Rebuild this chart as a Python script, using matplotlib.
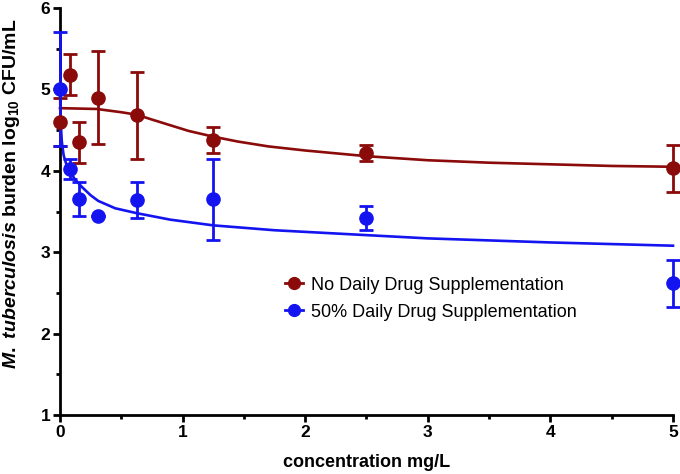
import matplotlib
matplotlib.use("Agg")
import matplotlib.pyplot as plt
from matplotlib.ticker import MultipleLocator

plt.rcParams["font.family"] = ["Liberation Sans", "DejaVu Sans"]
plt.rcParams["mathtext.fontset"] = "custom"
plt.rcParams["mathtext.it"] = "Liberation Sans:italic:bold"
plt.rcParams["mathtext.rm"] = "Liberation Sans:bold"

# measured data (concentration mg/L)
conc = [0, 0.078, 0.156, 0.3125, 0.625, 1.25, 2.5, 5]
no_supp_mean = [4.60, 5.18, 4.35, 4.90, 4.68, 4.38, 4.22, 4.03]
no_supp_err = [0.30, 0.25, 0.25, 0.57, 0.53, 0.16, 0.10, 0.29]
half_supp_mean = [5.00, 4.02, 3.65, 3.44, 3.64, 3.65, 3.42, 2.62]
half_supp_err = [0.70, 0.12, 0.21, 0.0, 0.22, 0.50, 0.15, 0.29]

# fitted curves
fit_x_red = [0, 0.3, 0.5, 0.625, 0.75, 0.9, 1.05, 1.25, 1.45, 1.7, 2.0, 2.5, 3.0, 3.5, 4.0, 4.5, 5.0]
fit_y_red = [4.77, 4.76, 4.72, 4.69, 4.63, 4.56, 4.49, 4.42, 4.36, 4.30, 4.25, 4.18, 4.13, 4.10, 4.08, 4.06, 4.05]
fit_x_blue = [0, 0.005, 0.015, 0.03, 0.05, 0.078, 0.12, 0.18, 0.25, 0.3125, 0.45, 0.625,
              0.9, 1.25, 1.75, 2.5, 3.0, 4.0, 5.0]
fit_y_blue = [5.00, 4.62, 4.36, 4.19, 4.09, 4.00, 3.90, 3.80, 3.70, 3.63, 3.54, 3.48,
              3.40, 3.33, 3.27, 3.21, 3.17, 3.12, 3.08]

red = "#8b0a0a"
blue = "#1414f0"

fig = plt.figure(figsize=(6.8, 4.74), dpi=100)
ax = fig.add_axes([0.0882, 0.1245, 0.9015, 0.8585])

ax.plot(fit_x_red, fit_y_red, color=red, lw=1.9, clip_on=False, zorder=2)
ax.plot(fit_x_blue, fit_y_blue, color=blue, lw=1.9, clip_on=False, zorder=2)

eb1 = ax.errorbar(conc, no_supp_mean, yerr=no_supp_err, fmt="o", color=red, ms=9.5,
                  capsize=4.7, capthick=2, elinewidth=2, clip_on=False, zorder=3)
eb2 = ax.errorbar(conc, half_supp_mean, yerr=half_supp_err, fmt="o", color=blue, ms=9.5,
                  capsize=4.7, capthick=2, elinewidth=2, clip_on=False, zorder=3)
for eb in (eb1, eb2):
    for part in eb.lines[1] + eb.lines[2]:
        part.set_clip_on(False)

# legend handles: marker on a short line
h1, = ax.plot([], [], "-o", color=red, ms=8.5, lw=2)
h2, = ax.plot([], [], "-o", color=blue, ms=8.5, lw=2)
ax.legend([h1, h2], ["No Daily Drug Supplementation", "50% Daily Drug Supplementation"],
          loc="upper left", bbox_to_anchor=(0.367, 0.34), frameon=False, fontsize=13,
          handlelength=1.0, handletextpad=0.45, labelspacing=0.56,
          borderpad=0, borderaxespad=0)

ax.set_xlim(0, 5)
ax.set_ylim(1, 6)
ax.xaxis.set_major_locator(MultipleLocator(1))
ax.xaxis.set_minor_locator(MultipleLocator(0.5))
ax.yaxis.set_major_locator(MultipleLocator(1))
ax.yaxis.set_minor_locator(MultipleLocator(0.5))

for side in ["top", "right"]:
    ax.spines[side].set_visible(False)
for side in ["left", "bottom"]:
    ax.spines[side].set_linewidth(2)
ax.tick_params(which="major", length=5, width=2, labelsize=12.5, pad=2)
ax.tick_params(which="minor", length=3, width=2)
for lab in ax.get_xticklabels() + ax.get_yticklabels():
    lab.set_fontweight("bold")

ax.set_xlabel("concentration mg/L", fontsize=13, fontweight="bold", labelpad=10)
ax.set_ylabel(r"$\it{M.\ tuberculosis}$ burden log$_{10}$ CFU/mL", fontsize=14,
              fontweight="bold")
ax.yaxis.set_label_coords(-0.062, 0.543)

fig.savefig("out.png", dpi=100)
